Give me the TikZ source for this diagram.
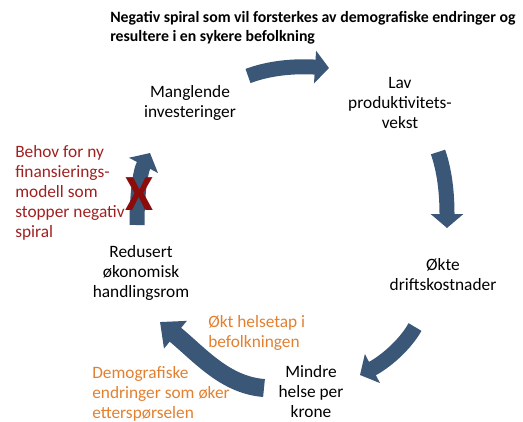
\documentclass[tikz,border=0pt]{standalone}
\usepackage{fontspec}
\setsansfont{Carlito}
\usetikzlibrary{positioning,arrows.meta}
\definecolor{spiralblue}{RGB}{59,87,120}
\definecolor{stopred}{RGB}{160,32,32}
\definecolor{xred}{RGB}{140,12,12}
\definecolor{demoorange}{RGB}{226,128,48}

\begin{document}
\begin{tikzpicture}[x=0.75pt,y=-0.75pt]

\sffamily
\fontsize{13}{15}\selectfont
\tikzstyle{basenode}=[inner sep=0pt, align=center];
\tikzstyle{stage}=[basenode, black];
\tikzstyle{note}=[basenode, align=left, anchor=west];
\tikzstyle{rednote}=[note, stopred];
\tikzstyle{orangenote}=[note, demoorange];
\tikzstyle{basearr}=[spiralblue, line width=11.25pt];
\tikzstyle{arr}=[basearr, -{Triangle[width=24pt,length=10.5pt]}];
\tikzstyle{bigarr}=[basearr, line width=13.5pt, -{Triangle[width=26pt,length=15pt]}];

\useasboundingbox (0,0) rectangle (523,421);

\node[note, font=\bfseries\fontsize{11.85}{14.25}\selectfont](title) at (110,27.5){Negativ spiral som vil forsterkes av demografiske endringer og\\resultere i en sykere befolkning};

\node[stage](mangl) at (190,103){Manglende\\investeringer};
\node[stage](lav) at (400,103){Lav\\produktivitets-\\vekst};
\node[stage](drift) at (443,275){Økte\\driftskostnader};
\node[stage](helse) at (311,392){Mindre\\helse per\\krone};
\node[stage](handl) at (141,273){Redusert\\økonomisk\\handlingsrom};

\node[rednote](behov) at (15,193){Behov for ny\\finansierings-\\modell som\\stopper negativ\\spiral};
\node[orangenote](helsetap) at (208,333){Økt helsetap i\\befolkningen};
\node[orangenote](demo) at (92,394){Demografiske\\endringer som øker\\etterspørselen};

% spiral arrows
\coordinate (a1s) at (248,76);  \coordinate (a1e) at (329,68);
\coordinate (a2s) at (438,152); \coordinate (a2e) at (447,228);
\coordinate (a3s) at (415,327); \coordinate (a3e) at (360,375);
\coordinate (a4s) at (264,388); \coordinate (a4e) at (160,322);
\coordinate (a5s) at (137,225); \coordinate (a5e) at (150,153);

\draw[ arr ] (a1s) .. controls (272,67) and (298,66) .. (a1e);
\draw[ arr ] (a2s) .. controls (446,175) and (447,200) .. (a2e);
\draw[ arr ] (a3s) .. controls (405,345) and (385,362) .. (a3e);
\draw[ bigarr ] (a4s) .. controls (225,385) and (200,355) .. (a4e);
\draw[ arr ] (a5s) .. controls (137,195) and (140,172) .. (a5e);

\node[basenode, xred, font=\bfseries\fontsize{38}{38}\selectfont](stopx) at (139,194){X};

\end{tikzpicture}
\end{document}
